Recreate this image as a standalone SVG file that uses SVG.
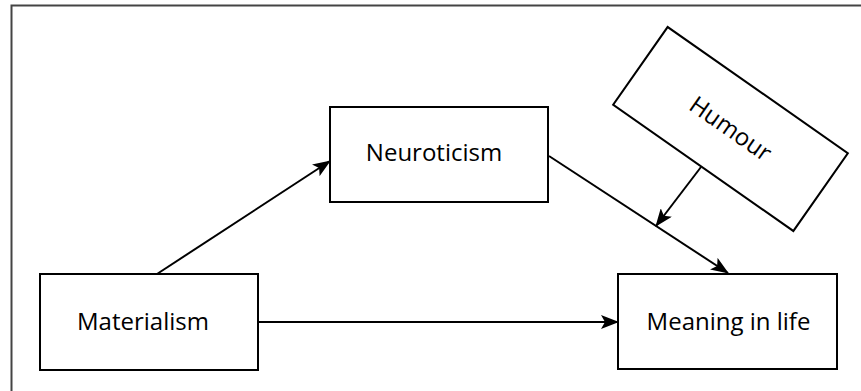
<svg xmlns="http://www.w3.org/2000/svg" width="861" height="391" viewBox="0 0 861 391">
<style>
.box{fill:#fff;stroke:#000;stroke-width:2}
.lbl{font-family:"Open Sans","Liberation Sans",sans-serif;font-size:24px;fill:#000;text-anchor:middle}
.conn{fill:none;stroke:#000;stroke-width:2;marker-end:url(#arr)}
</style>
<defs>
<marker id="arr" markerUnits="userSpaceOnUse" markerWidth="18" markerHeight="14" viewBox="0 0 18 14" refX="17" refY="7" orient="auto">
<path d="M0,0 L18,7 L0,14 L4,7 Z" fill="#000"/>
</marker>
</defs>
<rect width="861" height="391" fill="#fff"/>
<path d="M11.5,391 V5.5 H861" fill="none" stroke="#444" stroke-width="2"/>
<g id="connectors">
<line class="conn" x1="157" y1="274" x2="330" y2="161"/>
<line class="conn" x1="258" y1="322" x2="618" y2="322"/>
<line class="conn" x1="549" y1="156" x2="728" y2="273"/>
<line class="conn" x1="701" y1="167" x2="656" y2="226"/>
</g>
<g id="materialism">
<rect class="box" x="40" y="274" width="218" height="96"/>
<text class="lbl" x="143" y="330">Materialism</text>
</g>
<g id="neuroticism">
<rect class="box" x="330" y="107" width="218" height="95"/>
<text class="lbl" x="434" y="161">Neuroticism</text>
</g>
<g id="meaning">
<rect class="box" x="618" y="274" width="219" height="95"/>
<text class="lbl" x="728.5" y="330">Meaning in life</text>
</g>
<g id="humour" transform="translate(730.5,129) rotate(35)">
<rect class="box" x="-110" y="-47.5" width="220" height="95"/>
<text class="lbl" x="0" y="8">Humour</text>
</g>
</svg>
